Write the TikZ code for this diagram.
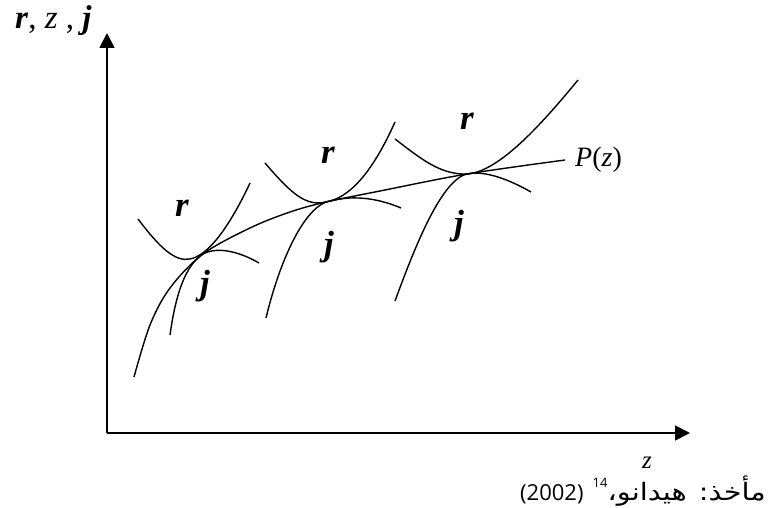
\documentclass[tikz,border=0pt]{standalone}
\usepackage{fontspec}
\setmainfont{Liberation Serif}
\newfontfamily\arabicfont[Script=Arabic,FakeStretch=1.2]{DejaVu Sans}
\newfontfamily\numfont{Open Sans}
\TeXXeTstate=1
\usetikzlibrary{arrows.meta}
\newcommand{\BI}[1]{\textbf{\textit{#1}}}

\begin{document}
\begin{tikzpicture}[x=1pt,y=-1pt,
    curve/.style={line width=1.4pt},
    axis/.style={line width=1.8pt,-{Triangle[length=15pt,width=15pt]}},
    lbl/.style={font=\fontsize{35}{35}\selectfont\bfseries\itshape,inner sep=0pt,anchor=base}]
    \useasboundingbox (0,0) rectangle (768,508);

    \coordinate (o) at (107,433);
    \coordinate (ytip) at (107,33);
    \coordinate (xtip) at (690,433);

    % points where the curves touch P(z)
    \coordinate (t1) at (203,254);
    \coordinate (t2) at (326,202);
    \coordinate (t3) at (467,174);

    \draw[axis] (o) -- (ytip);
    \draw[axis] (o) -- (xtip);

    \draw[curve] plot[smooth,tension=0.55] coordinates {(134,377) (150,325) (170,288) (t1)
        (250,228) (290,212) (t2) (380,191) (t3) (565,160)};

    \draw[curve] (138,219) .. controls (160,248) and (175,262) .. (190,259)
                           .. controls (212,255) and (235,215) .. (250,183);
    \draw[curve] (170,335) .. controls (176,292) and (186,265) .. (t1)
                           .. controls (218,246) and (240,252) .. (259,263);

    \draw[curve] (265,163) .. controls (290,192) and (305,207) .. (t2)
                           .. controls (355,197) and (378,160) .. (395,122);
    \draw[curve] (266,318) .. controls (280,260) and (303,211) .. (t2)
                           .. controls (350,195) and (375,197) .. (401,208);

    \draw[curve] (395,139) .. controls (420,158) and (440,175) .. (t3)
                           .. controls (500,172) and (545,120) .. (578,80);
    \draw[curve] (395,301) .. controls (412,255) and (440,180) .. (t3)
                           .. controls (485,170) and (510,180) .. (531,192);

    \node[lbl] (r1) at (182,216) {r};
    \node[lbl] (j1) at (205,294) {j};
    \node[lbl] (r2) at (328,163) {r};
    \node[lbl] (j2) at (329,255) {j};
    \node[lbl] (r3) at (467,130) {r};
    \node[lbl] (j3) at (459,234) {j};

    \node[anchor=base west,inner sep=0pt,font=\fontsize{28}{28}\selectfont] (plab) at (575,166) {\textit{P}(\textit{z})};
    \node[anchor=base west,inner sep=0pt,font=\fontsize{33}{33}\selectfont] (ylab) at (15,29) {\BI{r}, \textit{z} , \BI{j}};
    \node[inner sep=0pt,font=\fontsize{25}{25}\selectfont\itshape] (xlab) at (647,463) {z};

    \node[anchor=base east,inner sep=0pt] (src) at (766,500)
        {\arabicfont\fontsize{24}{24}\selectfont\beginR مأخذ: هيدانو،\beginL{\numfont\fontsize{13}{13}\selectfont\raisebox{13pt}{14}}\endL\ \beginL{\numfont\fontsize{22}{22}\selectfont(2002)}\endL\endR};
\end{tikzpicture}
\end{document}
